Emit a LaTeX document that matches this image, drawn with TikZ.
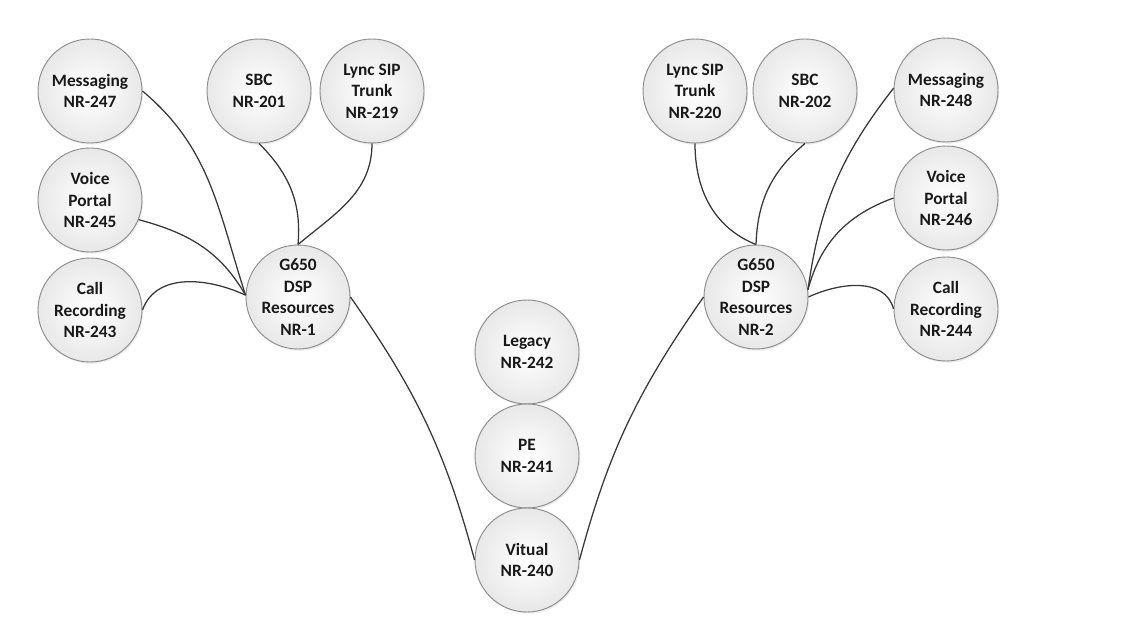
\documentclass[tikz,border=0pt]{standalone}
\usepackage{fontspec}
\setmainfont{Carlito}
\usetikzlibrary{shadows}
\tikzset{
  nd/.style={circle, minimum size=78pt, inner sep=0pt, draw=black!45, line width=0.7pt,
    shade, inner color=white, outer color=black!9,
    drop shadow={opacity=0.15, shadow xshift=0.9pt, shadow yshift=-1.3pt}},
  lbl/.style={align=center, inner sep=0pt, font=\fontsize{13}{16.2}\selectfont\bfseries, text=black!90},
  conn/.style={draw=black!78, line width=0.95pt}
}
\begin{document}
\begin{tikzpicture}[x=0.75pt, y=0.75pt]
\path[use as bounding box] (0,0) rectangle (1148,-634);
% left cluster
\node[nd, label={[lbl,name=m247t]center:{Messaging\\NR-247}}] (m247) at (90,-91) {};
\node[nd, label={[lbl,name=s201t]center:{SBC\\NR-201}}] (s201) at (259,-91) {};
\node[nd, label={[lbl,name=l219t]center:{Lync SIP\\Trunk\\NR-219}}] (l219) at (372,-91) {};
\node[nd, label={[lbl,name=v245t]center:{Voice\\Portal\\NR-245}}] (v245) at (90,-200) {};
\node[nd, label={[lbl,name=c243t]center:{Call\\Recording\\NR-243}}] (c243) at (90,-310) {};
\node[nd, label={[lbl,name=g1t]center:{G650\\DSP\\Resources\\NR-1}}] (g1) at (298,-297) {};
% center
\node[nd, label={[lbl,name=legt]center:{Legacy\\NR-242}}] (leg) at (527,-352) {};
\node[nd, label={[lbl,name=pet]center:{PE\\NR-241}}] (pe) at (527,-456) {};
\node[nd, label={[lbl,name=vitt]center:{Vitual\\NR-240}}] (vit) at (527,-560) {};
% right cluster
\node[nd, label={[lbl,name=l220t]center:{Lync SIP\\Trunk\\NR-220}}] (l220) at (695,-91) {};
\node[nd, label={[lbl,name=s202t]center:{SBC\\NR-202}}] (s202) at (805,-91) {};
\node[nd, label={[lbl,name=m248t]center:{Messaging\\NR-248}}] (m248) at (946,-90) {};
\node[nd, label={[lbl,name=v246t]center:{Voice\\Portal\\NR-246}}] (v246) at (946,-198) {};
\node[nd, label={[lbl,name=c244t]center:{Call\\Recording\\NR-244}}] (c244) at (946,-309) {};
\node[nd, label={[lbl,name=g2t]center:{G650\\DSP\\Resources\\NR-2}}] (g2) at (756,-297) {};
% connectors left
\draw[conn] (m247.0) to[out=-40, in=108] (g1.178);
\draw[conn] (v245.-22) to[out=-15, in=120] (g1.178);
\draw[conn] (c243.0) to[out=70, in=155] (g1.178);
\draw[conn] (s201.-90) to[out=-45, in=85] (g1.90);
\draw[conn] (l219.-90) to[out=-90, in=40] (g1.90);
% to Vitual
\draw[conn] (g1.0) to[out=-55, in=105] (vit.180);
\draw[conn] (vit.0) to[out=75, in=-125] (g2.180);
% connectors right
\draw[conn] (l220.-90) to[out=-90, in=158] (g2.90);
\draw[conn] (s202.-90) to[out=-140, in=88] (g2.90);
\draw[conn] (m248.178) to[out=-128, in=82] (g2.8);
\draw[conn] (v246.180) to[out=200, in=75] (g2.8);
\draw[conn] (c244.180) to[out=105, in=25] (g2.0);
\end{tikzpicture}
\end{document}
